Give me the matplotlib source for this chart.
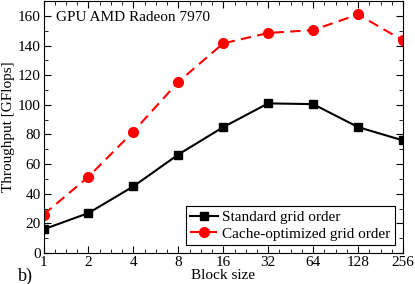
import matplotlib
matplotlib.use("Agg")
import matplotlib.pyplot as plt
from matplotlib.ticker import MultipleLocator, AutoMinorLocator

plt.rcParams['font.family'] = ['Liberation Serif', 'DejaVu Serif']

block_sizes = ["1", "2", "4", "8", "16", "32", "64", "128", "256"]
standard = [16, 27, 45, 66.5, 85, 101, 100.5, 85, 76]
cache_opt = [26, 51.5, 82, 115.5, 141.5, 148.5, 150.5, 161, 143.5]

fig = plt.figure(figsize=(4.15, 2.84), dpi=100)
ax = fig.add_axes([0.105, 0.109, 0.866, 0.887])

x = list(range(len(block_sizes)))
ax.plot(x, standard, color="black", marker="s", markersize=6, linewidth=1.5,
        label="Standard grid order")
ax.plot(x, cache_opt, color="red", marker="o", markersize=7, linewidth=1.5,
        linestyle=(0, (5, 3)), label="Cache-optimized grid order")

ax.set_xlim(0, 8)
ax.set_ylim(0, 170)
ax.set_xticks(x)
ax.set_xticklabels(block_sizes)
ax.xaxis.set_minor_locator(AutoMinorLocator(4))
ax.yaxis.set_major_locator(MultipleLocator(20))
ax.yaxis.set_minor_locator(MultipleLocator(10))
ax.tick_params(which="both", direction="in", top=True, right=True, labelsize=11)
ax.tick_params(which="major", length=5, pad=2)
ax.tick_params(which="minor", length=3)

ax.set_xlabel("Block size", fontsize=11, labelpad=0)
ax.set_ylabel("Throughput [GFlops]", fontsize=11, labelpad=2)

ax.text(0.035, 0.92, "GPU AMD Radeon 7970", transform=ax.transAxes, fontsize=11)
fig.text(0.043, 0.012, "b)", fontsize=13)

leg = ax.legend(loc="lower right", fontsize=11, fancybox=False, framealpha=1,
                edgecolor="black", handlelength=1.8, borderpad=0.3,
                labelspacing=0.2, handletextpad=0.3, borderaxespad=0.5)
leg.get_frame().set_linewidth(0.8)

fig.savefig("out.png", dpi=100)
